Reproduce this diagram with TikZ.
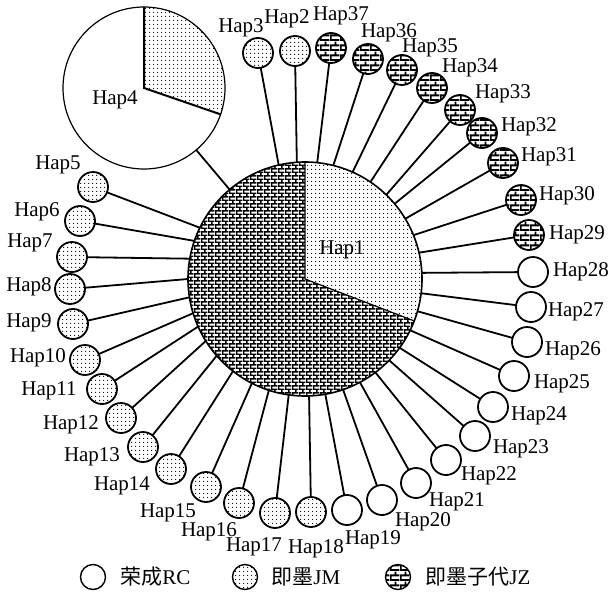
\documentclass[tikz,border=0pt]{standalone}
\usepackage{fontspec}
\setmainfont{Liberation Serif}
\newfontfamily\cjk{Noto Sans CJK SC}
\usetikzlibrary{patterns}
\pgfdeclarepatternformonly{fdots}{\pgfqpoint{0pt}{0pt}}{\pgfqpoint{1.8pt}{1.8pt}}{\pgfqpoint{1.8pt}{1.8pt}}{\pgfpathcircle{\pgfqpoint{0.9pt}{0.9pt}}{0.32pt}\pgfusepath{fill}}
\pgfdeclarepatternformonly{lbricks}{\pgfqpoint{0pt}{0pt}}{\pgfqpoint{3.6pt}{3.7pt}}{\pgfqpoint{3.6pt}{3.7pt}}{%
 \pgfpathrectangle{\pgfqpoint{0pt}{0pt}}{\pgfqpoint{3.6pt}{0.75pt}}%
 \pgfpathrectangle{\pgfqpoint{0pt}{1.85pt}}{\pgfqpoint{3.6pt}{0.75pt}}%
 \pgfpathrectangle{\pgfqpoint{0pt}{0pt}}{\pgfqpoint{0.7pt}{1.85pt}}%
 \pgfpathrectangle{\pgfqpoint{1.8pt}{1.85pt}}{\pgfqpoint{0.7pt}{1.85pt}}%
 \pgfusepath{fill}}
\pgfdeclarepatternformonly{sbricks}{\pgfqpoint{0pt}{0pt}}{\pgfqpoint{5pt}{5pt}}{\pgfqpoint{5pt}{5pt}}{%
 \pgfpathrectangle{\pgfqpoint{0pt}{0pt}}{\pgfqpoint{5pt}{1pt}}%
 \pgfpathrectangle{\pgfqpoint{0pt}{2.5pt}}{\pgfqpoint{5pt}{1pt}}%
 \pgfpathrectangle{\pgfqpoint{0pt}{0pt}}{\pgfqpoint{0.9pt}{2.5pt}}%
 \pgfpathrectangle{\pgfqpoint{2.5pt}{2.5pt}}{\pgfqpoint{0.9pt}{2.5pt}}%
 \pgfusepath{fill}}
\tikzset{
  hapc/.style={circle,draw,line width=0.9pt,minimum size=15pt,inner sep=0pt,outer sep=0pt},
  jm/.style={pattern=fdots},
  jz/.style={pattern=sbricks},
  rc/.style={fill=white},
  conn/.style={line width=0.9pt},
  lbl/.style={inner sep=0pt,font=\fontsize{10.5}{12}\selectfont},
  legc/.style={circle,draw,line width=0.7pt,minimum size=12.5pt,inner sep=0pt},
  legt/.style={anchor=west,inner sep=0pt,font=\fontsize{10.5}{12}\selectfont}
}
\begin{document}
\begin{tikzpicture}[x=0.5pt,y=0.5pt]
\path[use as bounding box] (0,0) rectangle (611,-611);
% Hap4 pie
\fill[white] (144,-88) circle[radius=81];
\fill[pattern=fdots] (144,-88) -- (144,-7) arc[start angle=90,end angle=-19,radius=81] -- cycle;
\draw[line width=1pt] (144,-7) -- (144,-88) -- ++(-19:81);
\node[circle,draw,line width=0.6pt,minimum size=81pt,inner sep=0pt,outer sep=0pt] (h4) at (144,-88) {};
\node[lbl] (l4) at (115,-100) {Hap4};
% Hap1 pie
\fill[pattern=lbricks] (305,-279) circle[radius=117];
\fill[white] (305,-279) -- (305,-162) arc[start angle=90,end angle=-21,radius=117] -- cycle;
\fill[pattern=fdots] (305,-279) -- (305,-162) arc[start angle=90,end angle=-21,radius=117] -- cycle;
\draw[line width=0.6pt] (305,-162) -- (305,-279) -- ++(-21:117);
\node[circle,draw,line width=0.8pt,minimum size=117pt,inner sep=0pt,outer sep=0pt] (h1) at (305,-279) {};
\node[lbl] (l1) at (342,-250) {Hap1};
\draw[conn] (h4) -- (h1);
% small haplotypes
\foreach \n/\x/\y/\s/\a/\lx/\ly in {
2/295/51/jm/94/287/19,
3/258/53/jm/103/241/28,
5/93/187/jm/154/58/165,
6/80/221/jm/161/37/212,
7/72/257/jm/170/30/243,
8/70/289/jm/180/29/287,
9/73/324/jm/189/29/323,
10/85/360/jm/197/38/358,
11/102/389/jm/204/49/391,
12/121/418/jm/212/71/425,
13/143/447/jm/221/92/457,
14/171/469/jm/232/122/486,
15/206/487/jm/243/168/513,
16/239/503/jm/252/209/532,
17/275/513/jm/262/254/547,
18/311/512/jm/272/316/549,
19/347/510/rc/280/373/540,
20/382/500/rc/289/423/522,
21/416/483/rc/298/457/502,
22/446/460/rc/307/489/476,
23/475/436/rc/316/521/449,
24/493/407/rc/324/539/416,
25/514/376/rc/334/562/384,
26/527/342/rc/344/573/351,
27/531/307/rc/353/576/312,
28/533/272/rc/3/581/272,
29/529/235/jz/13/577/235,
30/521/200/jz/22/567/196,
31/503/163/jz/31/549/157,
32/482/133/jz/40/529/127,
33/460/110/jz/46/503/94,
34/432/88/jz/56/470/68,
35/402/70/jz/66/430/48,
36/368/59/jz/76/389/33,
37/331/48/jz/84/341/16}{
  \node[hapc,\s] (h\n) at (\x,-\y) {};
  \node[lbl] (l\n) at (\lx,-\ly) {Hap\n};
  \draw[conn] (h\n) -- (h1.\a);
}
% legend
\node[legc] (k1) at (93,-577) {};
\node[legt] (t1) at (120,-577) {{\cjk 荣成}RC};
\node[legc,pattern=fdots] (k2) at (245,-577) {};
\node[legt] (t2) at (271,-577) {{\cjk 即墨}JM};
\node[legc,pattern=sbricks] (k3) at (398,-577) {};
\node[legt] (t3) at (425,-577) {{\cjk 即墨子代}JZ};
\end{tikzpicture}
\end{document}
